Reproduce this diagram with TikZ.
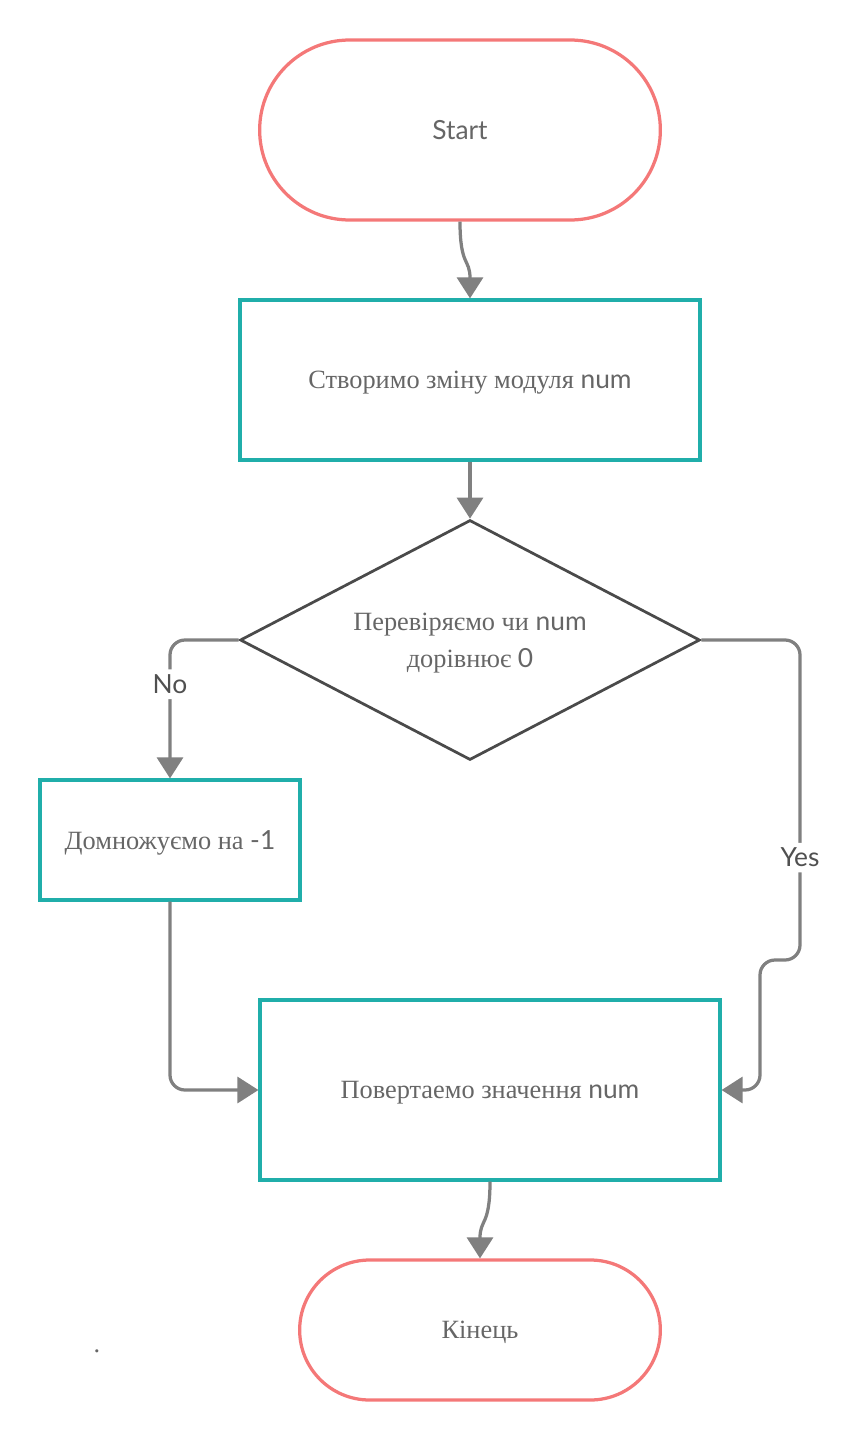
\documentclass[tikz,border=0pt]{standalone}
\usepackage{fontspec}
\setmainfont{Liberation Serif}
\newfontfamily\lato{Lato}
\usetikzlibrary{shapes.geometric,shapes.misc,arrows.meta}
\definecolor{termred}{RGB}{244,120,120}
\definecolor{procteal}{RGB}{32,174,170}
\definecolor{condgray}{RGB}{74,74,74}
\definecolor{wiregray}{RGB}{128,128,128}
\definecolor{inkgray}{RGB}{102,102,102}
\definecolor{labgray}{RGB}{80,80,80}
\tikzset{
  txt/.style={text=inkgray, font=\fontsize{15}{21}\selectfont, align=center, text depth=0pt},
  termbox/.style={txt, rounded rectangle, draw=termred, line width=0.065cm},
  procbox/.style={txt, rectangle, draw=procteal, line width=0.065cm},
  condbox/.style={txt, diamond, aspect=1.9, draw=condgray, line width=0.055cm, inner sep=0pt,
    minimum width=9.2cm, minimum height=4.8cm},
  wire/.style={draw=wiregray, line width=0.065cm, rounded corners=0.3cm,
    -{Triangle[width=0.52cm,length=0.42cm]}},
  lbl/.style={fill=white, text=labgray, font=\lato\fontsize{15}{17}\selectfont, inner sep=3pt}
}
\begin{document}
\begin{tikzpicture}[x=0.02cm, y=-0.02cm]
  \useasboundingbox (0,0) rectangle (860,1440);

  \node[termbox, minimum width=8.25cm, minimum height=3.6cm] (start) at (460,130) {{\lato Start}};
  \node[procbox, minimum width=9.2cm, minimum height=3.2cm] (make) at (470,380) {Створимо зміну модуля {\lato num}};
  \node[condbox] (check) at (470,640) {Перевіряємо чи {\lato num}\\дорівнює {\lato 0}};
  \node[procbox, minimum width=5.2cm, minimum height=2.4cm] (mult) at (170,840) {Домножуємо на {\lato -1}};
  \node[procbox, minimum width=9.2cm, minimum height=3.6cm] (ret) at (490,1090) {Повертаемо значення {\lato num}};
  \node[termbox, minimum width=7.45cm, minimum height=2.8cm] (stop) at (480,1330) {Кінець};
  \node[txt, anchor=base] (dot) at (97,1352) {.};

  \coordinate (jogA) at (800,960);
  \coordinate (jogB) at (760,960);

  \draw[wire] (start.south) .. controls +(0,45) and +(0,-40) .. (make.north);
  \draw[wire] (make) -- (check);
  \draw[wire] (check.west) -| node[lbl, pos=0.66] {No} (mult.north);
  \draw[wire] (check.east) -| node[lbl, pos=0.84] {Yes} (jogA) -- (jogB) |- (ret.east);
  \draw[wire] (mult.south) |- (ret.west);
  \draw[wire] (ret.south) .. controls +(0,45) and +(0,-40) .. (stop.north);
\end{tikzpicture}
\end{document}
